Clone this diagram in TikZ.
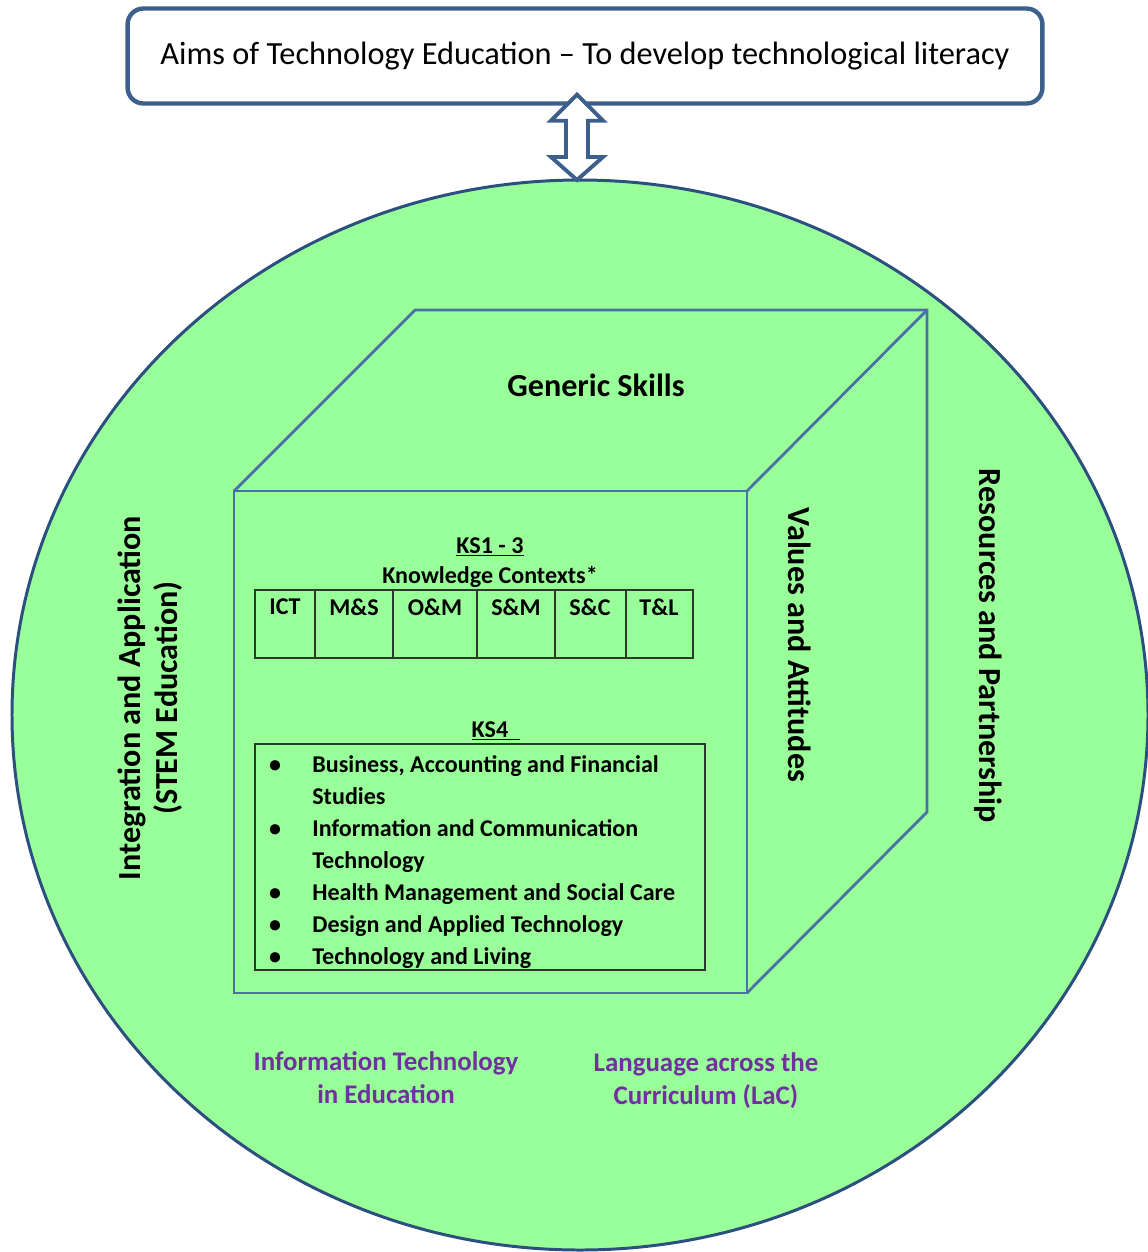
\documentclass[tikz,border=0pt]{standalone}
\usepackage{fontspec}
\setmainfont{Carlito}
\usetikzlibrary{calc}
\definecolor{ringfill}{HTML}{99FF99}
\definecolor{ringline}{HTML}{2B4F7E}
\definecolor{boxline}{HTML}{3C5F8C}
\definecolor{cubeline}{HTML}{4A70A6}
\definecolor{tepurple}{HTML}{7030A0}
\definecolor{tableline}{HTML}{2A3A2A}
\newcommand{\bigbold}{\fontsize{18.3pt}{21pt}\selectfont\bfseries}
\newcommand{\smallbold}{\fontsize{13.7pt}{16pt}\selectfont\bfseries}
\tikzset{
  sidelabel/.style={font=\bigbold, align=center},
  kslabel/.style={font=\smallbold},
  purplelabel/.style={font=\fontsize{15.3pt}{18.8pt}\selectfont\bfseries, text=tepurple, align=center},
  cubeedge/.style={draw=cubeline, line width=1.6pt, line join=miter}
}
\begin{document}
\begin{tikzpicture}[x=0.02cm, y=-0.02cm]
\useasboundingbox (0,0) rectangle (1148,1252);
% outer ring
\draw[fill=ringfill, draw=ringline, line width=1.7pt] (580,715) ellipse (568 and 535);
\coordinate (ringtop) at (577,180);
% aims box
\node[draw=boxline, line width=2.5pt, rounded corners=9pt, fill=white,
  minimum width=18.3cm, minimum height=1.9cm, font=\fontsize{18.4pt}{21pt}\selectfont]
  (aims) at (585,56) {Aims of Technology Education -- To develop technological literacy};
% double arrow between aims and ring
\coordinate (tiptop) at ($(aims.south)+(-8,-11)$);
\draw[draw=boxline, fill=white, line width=2.2pt, line join=miter]
  (tiptop) -- ++(26,26) -- ++(-15,0) -- ($(ringtop)+(11,-23)$) -- ++(15,0) -- (ringtop)
  -- ++(-26,-23) -- ++(15,0) -- ($(tiptop)+(-11,26)$) -- ++(-15,0) -- cycle;
% cube
\draw[cubeedge] (234,491) rectangle (747,993);
\draw[cubeedge] (234,491) -- (415,310) -- (927,310) -- (927,812) -- (747,993);
\draw[cubeedge] (747,491) -- (927,310);
\node[sidelabel] (generic) at (596,385) {Generic Skills};
\node[sidelabel, rotate=-90] (values) at (800,645) {Values and Attitudes};
\node[sidelabel, rotate=-90] (resources) at (988,646) {Resources and Partnership};
\node[sidelabel, rotate=90] (integration) at (150,698) {Integration and Application\\(STEM Education)};
% KS1-3
\node[kslabel] (ks13) at (490,547) {\underline{KS1 - 3}};
\node[kslabel] (contexts) at (490,577) {Knowledge Contexts*};
\draw[tableline, line width=0.9pt] (255,590) rectangle (693,658);
\foreach \xx in {315,393,477,555,626}
  \draw[tableline, line width=0.9pt] (\xx,590) -- (\xx,658);
\foreach \xx/\name/\txt in {285/ict/ICT, 354/ms/M\&S, 435/om/O\&M, 516/sm/S\&M, 590/sc/S\&C, 659/tl/T\&L}
  \node[kslabel] (\name) at (\xx,607) {\txt};
% KS4
\node[kslabel] (ks4) at (496,731) {\underline{KS4\hspace{0.5em}}};
\draw[tableline, line width=0.9pt] (255,744) rectangle (705,970);
\foreach \yy/\txt in {764/{Business, Accounting and Financial}, 796/{Studies},
    828/{Information and Communication}, 860/{Technology},
    892/{Health Management and Social Care}, 924/{Design and Applied Technology},
    956/{Technology and Living}}
  \node[kslabel, anchor=base west, inner sep=0pt] at (312,\yy+8) {\txt};
\foreach \yy in {764,828,892,924,956}
  \node[kslabel, anchor=base] at (275,\yy+8) {•};
% purple labels
\node[purplelabel] (itedu) at (386,1078) {Information Technology\\in Education};
\node[purplelabel] (lac) at (706,1081) {Language across the\\Curriculum (LaC)};
\end{tikzpicture}
\end{document}
